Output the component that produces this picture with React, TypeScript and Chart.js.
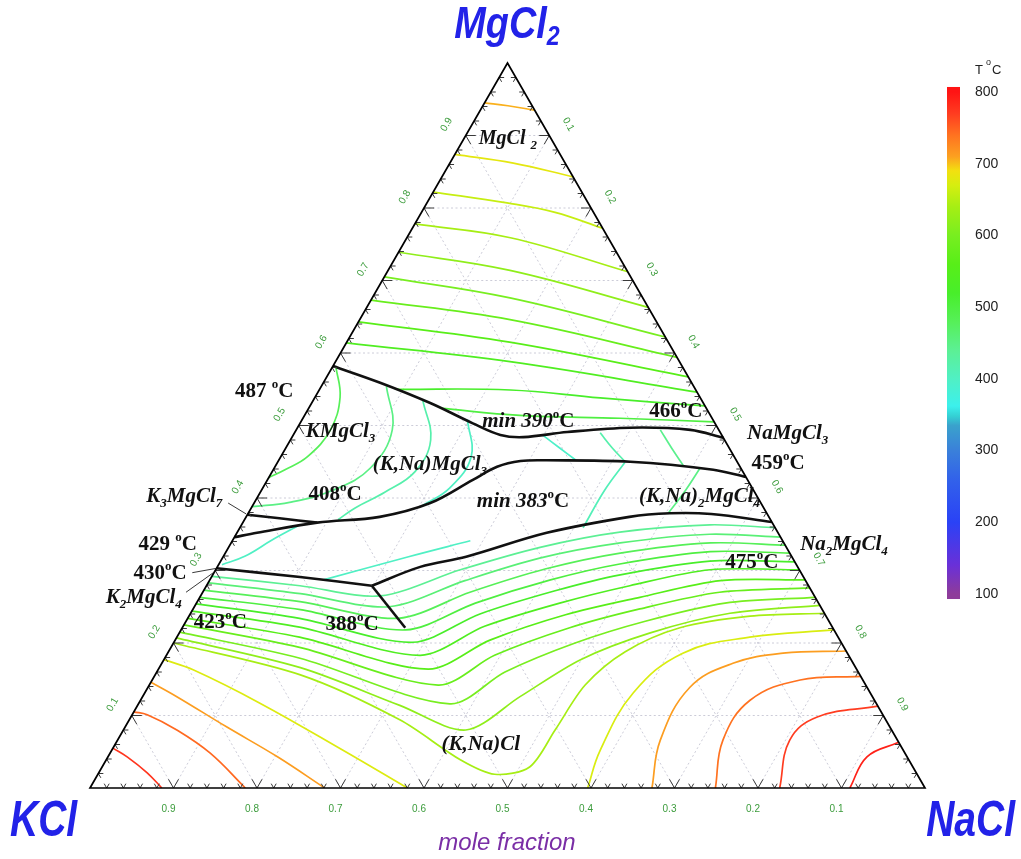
import React, { useEffect, useRef } from "react";
import { Chart, registerables } from "chart.js";
Chart.register(...registerables);

type P = [number, number]; // [x NaCl, x MgCl2]

// ---------- liquidus isotherms (compositions) ----------
const upperTemps = [705, 680, 660, 640, 620, 600, 580, 560, 540, 520, 500];
const upperCurves: P[][] = [
  [[0, 0.945], [0.03, 0.941], [0.065, 0.935]],
  [[0, 0.874], [0.076, 0.862], [0.157, 0.843]],
  [[0, 0.822], [0.096, 0.807], [0.16, 0.794], [0.228, 0.772]],
  [[0, 0.778], [0.124, 0.759], [0.288, 0.712]],
  [[0, 0.739], [0.146, 0.714], [0.337, 0.663]],
  [[0, 0.705], [0.165, 0.676], [0.378, 0.622]],
  [[0, 0.673], [0.18, 0.646], [0.406, 0.594]],
  [[0, 0.643], [0.195, 0.615], [0.433, 0.567]],
  [[0, 0.614], [0.209, 0.588], [0.454, 0.546]],
  [[0.09, 0.55], [0.229, 0.549], [0.342, 0.538], [0.473, 0.527]],
  [[0.157, 0.524], [0.258, 0.514], [0.38, 0.51], [0.495, 0.505]],
];

const kmgTemps = [480, 450, 420, 400];
const kmgArcs: P[][] = [
  [[0.004, 0.581], [0.03, 0.539], [0.041, 0.494], [0.032, 0.457], [0.014, 0.439], [0, 0.428]],
  [[0.078, 0.554], [0.115, 0.494], [0.115, 0.441], [0.086, 0.411], [0.042, 0.394], [0, 0.388]],
  [[0.131, 0.535], [0.168, 0.48], [0.171, 0.436], [0.149, 0.408], [0.124, 0.386], [0.112, 0.37]],
  [[0.198, 0.508], [0.228, 0.457], [0.224, 0.414], [0.203, 0.389]],
];

const midTemps = [395, 420, 445, 410, 450, 400, 400];
const midCurves: P[][] = [
  [[0.3, 0.486], [0.328, 0.469], [0.356, 0.452]],
  [[0.366, 0.49], [0.391, 0.469], [0.416, 0.45]],
  [[0.436, 0.494], [0.462, 0.469], [0.489, 0.444]],
  [[0.416, 0.449], [0.411, 0.411], [0.411, 0.359]],
  [[0.51, 0.441], [0.508, 0.411], [0.503, 0.379]],
  [[0.07, 0.363], [0.047, 0.342], [0.026, 0.32], [0.004, 0.308]],
  [[0.136, 0.287], [0.222, 0.319], [0.285, 0.341]],
];

const valleyTemps = [440, 460, 480, 500, 520, 540, 560, 580, 600, 620, 640];
const valleyCurves: P[][] = [
  [[0, 0.292], [0.112, 0.279], [0.215, 0.265], [0.293, 0.301], [0.373, 0.332], [0.458, 0.353], [0.561, 0.363], [0.641, 0.359]],
  [[0, 0.283], [0.118, 0.268], [0.233, 0.25], [0.306, 0.286], [0.38, 0.317], [0.466, 0.338], [0.567, 0.35], [0.654, 0.346]],
  [[0, 0.273], [0.123, 0.257], [0.252, 0.234], [0.32, 0.27], [0.394, 0.302], [0.473, 0.324], [0.574, 0.338], [0.665, 0.335]],
  [[0, 0.263], [0.129, 0.246], [0.269, 0.218], [0.334, 0.255], [0.408, 0.287], [0.48, 0.309], [0.58, 0.326], [0.676, 0.324]],
  [[0, 0.254], [0.134, 0.234], [0.286, 0.201], [0.347, 0.24], [0.421, 0.272], [0.488, 0.294], [0.586, 0.313], [0.688, 0.312]],
  [[0, 0.244], [0.14, 0.222], [0.304, 0.183], [0.361, 0.223], [0.435, 0.255], [0.507, 0.279], [0.592, 0.301], [0.699, 0.301]],
  [[0, 0.234], [0.147, 0.208], [0.323, 0.164], [0.377, 0.204], [0.45, 0.239], [0.527, 0.263], [0.612, 0.286], [0.713, 0.287]],
  [[0, 0.225], [0.154, 0.194], [0.346, 0.142], [0.393, 0.183], [0.464, 0.221], [0.535, 0.247], [0.619, 0.27], [0.724, 0.276]],
  [[0, 0.215], [0.162, 0.179], [0.373, 0.116], [0.417, 0.16], [0.481, 0.2], [0.55, 0.23], [0.633, 0.255], [0.737, 0.263]],
  [[0, 0.207], [0.169, 0.166], [0.314, 0.114], [0.41, 0.08], [0.452, 0.126], [0.499, 0.177], [0.564, 0.214], [0.646, 0.241], [0.748, 0.252]],
  [[0, 0.2], [0.174, 0.156], [0.324, 0.094], [0.424, 0.039], [0.475, 0.019], [0.512, 0.029], [0.517, 0.08], [0.522, 0.142], [0.547, 0.188], [0.596, 0.221], [0.672, 0.237], [0.759, 0.241]],
];

const kclTemps = [775, 745, 712, 675];
const kclArcs: P[][] = [
  [[0, 0.055], [0.023, 0.043], [0.058, 0.021], [0.086, 0]],
  [[0, 0.105], [0.018, 0.101], [0.064, 0.08], [0.12, 0.048], [0.186, 0]],
  [[0, 0.146], [0.041, 0.126], [0.122, 0.084], [0.203, 0.043], [0.281, 0]],
  [[0, 0.177], [0.042, 0.163], [0.145, 0.117], [0.277, 0.052], [0.38, 0]],
];

const naclTemps = [672, 712, 740, 770, 790];
const naclArcs: P[][] = [
  [[0.596, 0], [0.585, 0.052], [0.585, 0.131], [0.617, 0.186], [0.686, 0.208], [0.782, 0.218]],
  [[0.673, 0], [0.65, 0.066], [0.649, 0.139], [0.684, 0.172], [0.737, 0.186], [0.811, 0.189]],
  [[0.749, 0], [0.725, 0.066], [0.73, 0.121], [0.776, 0.149], [0.846, 0.154]],
  [[0.826, 0], [0.805, 0.066], [0.822, 0.098], [0.887, 0.113]],
  [[0.91, 0], [0.909, 0.043], [0.937, 0.063]],
];

// ---------- phase boundaries ----------
const boundaries: P[][] = [
  [[0, 0.582], [0.068, 0.559], [0.142, 0.531], [0.207, 0.503], [0.248, 0.487], [0.277, 0.484], [0.326, 0.491], [0.398, 0.497], [0.472, 0.494], [0.517, 0.483]],
  [[0, 0.346], [0.024, 0.352], [0.089, 0.366], [0.16, 0.374], [0.211, 0.393], [0.246, 0.425], [0.266, 0.443], [0.29, 0.451], [0.321, 0.452], [0.422, 0.45], [0.527, 0.439], [0.571, 0.429]],
  [[0, 0.377], [0.041, 0.372], [0.089, 0.366]],
  [[0.198, 0.279], [0.243, 0.305], [0.291, 0.319], [0.371, 0.352], [0.459, 0.374], [0.505, 0.379], [0.555, 0.378], [0.633, 0.367]],
  [[0, 0.303], [0.106, 0.291], [0.198, 0.279]],
  [[0.198, 0.279], [0.267, 0.221]],
];
const boundaryTension = [0.35, 0.35, 0.2, 0.35, 0.2, 0];

const leaderLines: P[][] = [
  [[-0.031, 0.393], [-0.002, 0.378]],
  [[-0.026, 0.297], [0, 0.303]],
  [[-0.02, 0.27], [0, 0.298]],
];

// ---------- annotations ----------
const labelTexts = [
  "MgCl _2", "487 ^oC", "KMgCl_3", "(K,Na)MgCl_3", "~min 390~^oC", "466^oC", "NaMgCl_3", "459^oC",
  "K_3MgCl_7", "408^oC", "~min 383~^oC", "(K,Na)_2MgCl_4", "429 ^oC", "Na_2MgCl_4", "430^oC",
  "475^oC", "K_2MgCl_4", "423^oC", "388^oC", "(K,Na)Cl",
];
const labelAt: P[] = [
  [0.052, 0.897], [-0.066, 0.549], [0.053, 0.494], [0.183, 0.448], [0.271, 0.508], [0.441, 0.521],
  [0.59, 0.491], [0.599, 0.45], [-0.089, 0.404], [0.09, 0.407], [0.32, 0.397], [0.528, 0.404],
  [-0.076, 0.338], [0.734, 0.338], [-0.065, 0.298], [0.636, 0.313], [-0.068, 0.265], [0.041, 0.23],
  [0.2, 0.228], [0.437, 0.062],
];
const labelItalic = [true, false, true, true, false, false, true, false, true, false, false, true, false, true, false, false, true, false, false, true];

const gridFractions = [0.1, 0.2, 0.3, 0.4, 0.5, 0.6, 0.7, 0.8, 0.9];
const tickLabels = ["0.1", "0.2", "0.3", "0.4", "0.5", "0.6", "0.7", "0.8", "0.9"];
const colorbarTicks = [800, 700, 600, 500, 400, 300, 200, 100];

// ---------- colour map ----------
const cmapT = [100, 140, 200, 260, 300, 335, 348, 362, 400, 440, 480, 520, 560, 600, 640, 670, 690, 710, 740, 770, 800];
const cmapC = ["#8e3c9a", "#6a30d8", "#2a42f6", "#3262ea", "#3a80da", "#3aa2cc", "#34d0d4", "#3cf0ec", "#50f0c4", "#5cf094", "#56f058", "#48ee2a", "#58ee18", "#78ee20", "#a6ee14", "#d6ee10", "#f2e010", "#fca020", "#ff7220", "#ff3c20", "#ff1414"];

const W = 1021, H = 859;

function rgb(h: string) {
  return [parseInt(h.slice(1, 3), 16), parseInt(h.slice(3, 5), 16), parseInt(h.slice(5, 7), 16)];
}
function tempColor(t: number) {
  if (t <= cmapT[0]) return cmapC[0];
  for (let i = 1; i < cmapT.length; i++) {
    if (t <= cmapT[i]) {
      const f = (t - cmapT[i - 1]) / (cmapT[i] - cmapT[i - 1]);
      const a = rgb(cmapC[i - 1]), b = rgb(cmapC[i]);
      return `rgb(${Math.round(a[0] + (b[0] - a[0]) * f)},${Math.round(a[1] + (b[1] - a[1]) * f)},${Math.round(a[2] + (b[2] - a[2]) * f)})`;
    }
  }
  return cmapC[cmapC.length - 1];
}

const toXY = (p: P) => ({ x: p[0] + p[1] / 2, y: p[1] });

function isoSets(curves: P[][], temps: number[], tension = 0.4) {
  return curves.map((c, i) => ({
    data: c.map(toXY),
    showLine: true,
    borderColor: tempColor(temps[i]),
    borderWidth: 1.7,
    pointRadius: 0,
    pointHoverRadius: 0,
    fill: false,
    tension,
    order: 1,
  }));
}

function buildDatasets() {
  const sets: any[] = [];
  sets.push(...isoSets(upperCurves, upperTemps));
  sets.push(...isoSets(kmgArcs, kmgTemps));
  sets.push(...isoSets(midCurves, midTemps));
  sets.push(...isoSets(valleyCurves, valleyTemps, 0.3));
  sets.push(...isoSets(kclArcs, kclTemps));
  sets.push(...isoSets(naclArcs, naclTemps));
  boundaries.forEach((b, i) =>
    sets.push({
      data: b.map(toXY),
      showLine: true,
      borderColor: "#111",
      borderWidth: 2.6,
      pointRadius: 0,
      pointHoverRadius: 0,
      fill: false,
      tension: boundaryTension[i],
      order: 0,
    })
  );
  return sets;
}

function seg(ctx: CanvasRenderingContext2D, a: number[], b: number[]) {
  ctx.beginPath();
  ctx.moveTo(a[0], a[1]);
  ctx.lineTo(b[0], b[1]);
  ctx.stroke();
}

function drawRich(ctx: CanvasRenderingContext2D, text: string, cx: number, cy: number, size: number, italic: boolean) {
  const segs: { c: string; k: string; it: boolean; w: number }[] = [];
  let it = italic;
  for (let i = 0; i < text.length; i++) {
    const ch = text[i];
    if (ch === "~") { it = !it; continue; }
    if (ch === "_" || ch === "^") { segs.push({ c: text[++i], k: ch, it, w: 0 }); continue; }
    segs.push({ c: ch, k: "", it, w: 0 });
  }
  const fontFor = (s: any) => `${s.it ? "italic " : ""}bold ${s.k ? Math.round(size * 0.64) : size}px "Liberation Serif"`;
  let w = 0;
  for (const s of segs) { ctx.font = fontFor(s); s.w = ctx.measureText(s.c).width; w += s.w; }
  let x = cx - w / 2;
  const base = cy + size * 0.33;
  ctx.textAlign = "left";
  ctx.textBaseline = "alphabetic";
  for (const s of segs) {
    ctx.font = fontFor(s);
    const dy = s.k === "_" ? size * 0.24 : s.k === "^" ? -size * 0.42 : 0;
    ctx.fillText(s.c, x, base + dy);
    x += s.w;
  }
}

const ternaryPlugin = {
  id: "ternary",
  beforeDatasetsDraw(chart: any) {
    const ctx: CanvasRenderingContext2D = chart.ctx;
    const xs = chart.scales.x, ys = chart.scales.y;
    const pt = (n: number, m: number) => [xs.getPixelForValue(n + m / 2), ys.getPixelForValue(m)];
    ctx.save();
    ctx.strokeStyle = "#c6c6d4";
    ctx.lineWidth = 0.9;
    ctx.setLineDash([2, 2.5]);
    for (const g of gridFractions) {
      seg(ctx, pt(0, g), pt(1 - g, g));
      seg(ctx, pt(g, 0), pt(g, 1 - g));
      seg(ctx, pt(1 - g, 0), pt(0, 1 - g));
    }
    ctx.restore();
  },
  afterDatasetsDraw(chart: any) {
    const ctx: CanvasRenderingContext2D = chart.ctx;
    const xs = chart.scales.x, ys = chart.scales.y;
    const pt = (n: number, m: number) => [xs.getPixelForValue(n + m / 2), ys.getPixelForValue(m)];
    ctx.save();

    // ticks
    ctx.strokeStyle = "#3a3a3a";
    ctx.lineWidth = 1;
    const s3 = Math.sqrt(3) / 2;
    for (let k = 1; k < 50; k++) {
      const t = k / 50;
      const L = k % 5 === 0 ? 10 : 5;
      const groups: [number[], number[][]][] = [
        [pt(t, 0), [[-0.5, -s3], [0.5, -s3]]],
        [pt(0, t), [[1, 0], [0.5, s3]]],
        [pt(1 - t, t), [[-1, 0], [-0.5, s3]]],
      ];
      for (const [b, dirs] of groups) {
        for (const d of dirs) seg(ctx, b, [b[0] + d[0] * L, b[1] + d[1] * L]);
      }
    }

    // frame
    ctx.strokeStyle = "#000";
    ctx.lineWidth = 1.7;
    ctx.beginPath();
    const A = pt(0, 0), B = pt(1, 0), C = pt(0, 1);
    ctx.moveTo(A[0], A[1]); ctx.lineTo(B[0], B[1]); ctx.lineTo(C[0], C[1]); ctx.closePath();
    ctx.stroke();

    // axis tick labels
    ctx.fillStyle = "#3c9c3c";
    ctx.font = '10px "Liberation Sans"';
    ctx.textAlign = "center";
    ctx.textBaseline = "middle";
    gridFractions.forEach((v, i) => {
      const lab = tickLabels[i];
      const l = pt(0, v);
      ctx.save(); ctx.translate(l[0] - 22 * s3, l[1] - 11); ctx.rotate(-Math.PI / 3); ctx.fillText(lab, 0, 0); ctx.restore();
      const r = pt(v, 1 - v);
      ctx.save(); ctx.translate(r[0] + 22 * s3, r[1] - 11); ctx.rotate(Math.PI / 3); ctx.fillText(lab, 0, 0); ctx.restore();
      const b = pt(1 - v, 0);
      ctx.fillText(lab, b[0] - 5, b[1] + 21);
    });

    // leader lines
    ctx.strokeStyle = "#222";
    ctx.lineWidth = 0.9;
    for (const ln of leaderLines) seg(ctx, pt(ln[0][0], ln[0][1]), pt(ln[1][0], ln[1][1]));

    // phase labels
    ctx.fillStyle = "#111";
    labelTexts.forEach((t, i) => {
      const p = pt(labelAt[i][0], labelAt[i][1]);
      drawRich(ctx, t, p[0], p[1], i === 0 ? 20 : 21, labelItalic[i]);
    });

    // big component names
    ctx.fillStyle = "#2222e8";
    ctx.textBaseline = "alphabetic";
    const big = (txt: string, x: number, y: number, size: number, sx: number, align: "left" | "right" | "center", sub?: string) => {
      ctx.save();
      ctx.font = `italic bold ${size}px "Liberation Sans"`;
      const w1 = ctx.measureText(txt).width * sx;
      let w2 = 0;
      if (sub) { ctx.font = `italic bold ${Math.round(size * 0.62)}px "Liberation Sans"`; w2 = ctx.measureText(sub).width * sx; }
      const total = w1 + w2;
      let x0 = align === "left" ? x : align === "right" ? x - total : x - total / 2;
      ctx.translate(x0, y);
      ctx.scale(sx, 1);
      ctx.textAlign = "left";
      ctx.font = `italic bold ${size}px "Liberation Sans"`;
      ctx.fillText(txt, 0, 0);
      if (sub) {
        ctx.font = `italic bold ${Math.round(size * 0.62)}px "Liberation Sans"`;
        ctx.fillText(sub, w1 / sx, size * 0.16);
      }
      ctx.restore();
    };
    big("MgCl", 507, 38, 44, 0.86, "center", "2");
    big("KCl", 10, 836, 50, 0.78, "left");
    big("NaCl", 1015, 836, 50, 0.78, "right");

    ctx.fillStyle = "#7a2ea6";
    ctx.font = 'italic 24px "Liberation Sans"';
    ctx.textAlign = "center";
    ctx.fillText("mole fraction", 507, 850);

    // colour bar
    const yOf = (v: number) => 92 + ((800 - v) * 502) / 700;
    const y0 = yOf(807), y1 = yOf(93);
    const grad = ctx.createLinearGradient(0, y0, 0, y1);
    grad.addColorStop(0, tempColor(807));
    for (const t of cmapT) grad.addColorStop(Math.min(1, Math.max(0, (yOf(t) - y0) / (y1 - y0))), tempColor(t));
    grad.addColorStop(1, tempColor(93));
    ctx.fillStyle = grad;
    ctx.fillRect(947, y0, 13, y1 - y0);
    ctx.fillStyle = "#222";
    ctx.font = '14px "Liberation Sans"';
    ctx.textAlign = "left";
    ctx.textBaseline = "middle";
    for (const v of colorbarTicks) ctx.fillText(String(v), 975, yOf(v));
    ctx.font = '13px "Liberation Sans"';
    ctx.fillText("T", 975, 70);
    ctx.font = '9px "Liberation Sans"';
    ctx.fillText("o", 986, 63);
    ctx.font = '13px "Liberation Sans"';
    ctx.fillText("C", 992, 70);

    ctx.restore();
  },
};

export default function App() {
  const ref = useRef<HTMLCanvasElement>(null);
  useEffect(() => {
    const cv = ref.current;
    if (!cv) return;
    const chart = new Chart(cv, {
      type: "scatter",
      data: { datasets: buildDatasets() },
      options: {
        responsive: false,
        animation: false,
        devicePixelRatio: 1,
        events: [],
        layout: { padding: { left: 90, right: 96, top: 63, bottom: 71 } },
        scales: {
          x: { type: "linear", min: 0, max: 1, display: false },
          y: { type: "linear", min: 0, max: 1, display: false },
        },
        plugins: { legend: { display: false }, tooltip: { enabled: false } },
      } as any,
      plugins: [ternaryPlugin as any],
    });
    return () => chart.destroy();
  }, []);
  return (
    <div style={{ position: "absolute", left: 0, top: 0, width: W, height: H, background: "#fff" }}>
      <canvas ref={ref} width={W} height={H} style={{ width: W, height: H, display: "block" }} />
    </div>
  );
}
